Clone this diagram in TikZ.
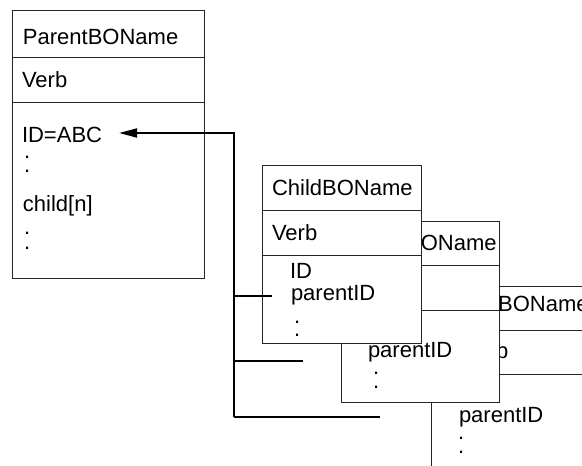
\documentclass[tikz,border=0pt]{standalone}
\usepackage{fontspec}
\setmainfont{Liberation Sans}
\usetikzlibrary{arrows.meta}
\begin{document}
\begin{tikzpicture}[x=1pt,y=-1pt,
  box/.style={draw=black!85, line width=1pt, fill=white, anchor=north west, inner sep=0pt, outer sep=0pt},
  divider/.style={draw=black!85, line width=1pt},
  txt/.style={anchor=base west, inner sep=0pt, outer sep=0pt, font=\fontsize{22}{24}\selectfont, text=black},
  conn/.style={line width=2pt, draw=black}]
\useasboundingbox (0,0) rectangle (582,466);
\clip (0,0) rectangle (582,466);
% ---- box 3 (back)
\node[box, minimum width=240pt, minimum height=240pt] (c3) at (431,286) {};
\draw[divider] (431,330) -- (680,330);
\draw[divider] (431,374) -- (680,374);
\node[txt] (c3name) at (448,311) {ChildBOName};
\node[txt] (c3verb) at (463,358) {Verb};
\node[txt] (c3pid) at (459,422) {parentID};
\node[txt] (c3d1) at (458,439.5) {.};
\node[txt] (c3d2) at (458,453.5) {.};
% ---- box 2
\node[box, minimum width=158pt, minimum height=181pt] (c2) at (341,221) {};
\draw[divider] (341,265) -- (499,265);
\draw[divider] (341,310) -- (499,310);
\node[txt] (c2name) at (356,250) {ChildBOName};
\node[txt] (c2verb) at (356,295) {Verb};
\node[txt] (c2id) at (369,334) {ID};
\node[txt] (c2pid) at (368,357) {parentID};
\node[txt] (c2d1) at (373,374.5) {.};
\node[txt] (c2d2) at (373,388.5) {.};
% ---- box 1 (front)
\node[box, minimum width=159pt, minimum height=178pt] (c1) at (262,165) {};
\draw[divider] (262,210) -- (421,210);
\draw[divider] (262,255) -- (421,255);
\node[txt] (c1name) at (272,195) {ChildBOName};
\node[txt] (c1verb) at (272,240) {Verb};
\node[txt] (c1id) at (290,278) {ID};
\node[txt] (c1pid) at (291,300) {parentID};
\node[txt] (c1d1) at (294,323.5) {.};
\node[txt] (c1d2) at (294,336.5) {.};
% ---- parent box
\node[box, minimum width=192pt, minimum height=268pt] (parent) at (12,10) {};
\draw[divider] (12,57) -- (204,57);
\draw[divider] (12,102) -- (204,102);
\node[txt] (pname) at (23,44) {ParentBOName};
\node[txt] (pverb) at (22,87) {Verb};
\node[txt] (idabc) at (22,142) {ID=ABC};
\node[txt] (pd1) at (24,158.5) {.};
\node[txt] (pd2) at (24,172.5) {.};
\node[txt] (pchild) at (23,211) {child[n]};
\node[txt] (pd3) at (24,234.5) {.};
\node[txt] (pd4) at (24,249.5) {.};
% ---- connectors
\coordinate (j0) at (234,133);
\coordinate (j1) at (234,296);
\coordinate (j2) at (234,361);
\coordinate (j3) at (234,417);
\coordinate (e1) at (272,296);
\coordinate (e2) at (303,361);
\coordinate (e3) at (380,417);
\draw[conn, -{Triangle[length=18pt,width=9pt]}, shorten >=-1pt] (j3) -- (j0) -- ([xshift=18pt]idabc.east |- j0);
\draw[conn] (j1) -- (e1);
\draw[conn] (j2) -- (e2);
\draw[conn] (j3) -- (e3);
\end{tikzpicture}
\end{document}
